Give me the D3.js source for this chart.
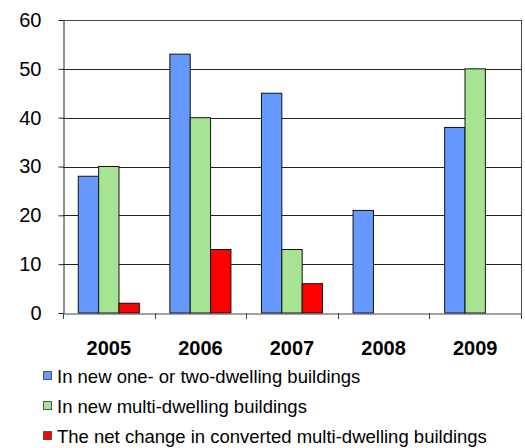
<!DOCTYPE html>
<html>
<head>
<meta charset="utf-8">
<script src="https://cdn.jsdelivr.net/npm/d3@7"></script>
<style>
  body { margin: 0; background: #fff; }
  svg { font-family: Arial, "Liberation Sans", sans-serif; }
</style>
</head>
<body>
<div id="myplot"></div>
<script>
// data
var years = ["2005", "2006", "2007", "2008", "2009"];
var oneTwo = [28, 53, 45, 21, 38];
var multi = [30, 40, 13, 0, 50];
var converted = [2, 13, 6, 0, 0];
var seriesNames = ["In new one- or two-dwelling buildings",
                   "In new multi-dwelling buildings",
                   "The net change in converted multi-dwelling buildings"];
var yTicks = [0, 10, 20, 30, 40, 50, 60];

var colors = ["#6699FF", "#A6E493", "#FF0000"];
var series = [oneTwo, multi, converted];

var svg = d3.select('div#myplot')
  .append('svg')
  .attr('width', 525)
  .attr('height', 448);

var mLeft = 63, mRight = 521, mTop = 20, mBottom = 313;

var x = d3.scaleBand().domain(years).range([mLeft, mRight]);
var y = d3.scaleLinear().domain([0, 60]).range([mBottom, mTop]);
var barW = x.bandwidth() / 4.5;
var pad = (x.bandwidth() - 3 * barW) / 2;

// gridlines
svg.append('g')
  .selectAll('line')
  .data(yTicks.filter(d => d > 0))
  .enter()
  .append('line')
  .attr('x1', mLeft).attr('x2', mRight)
  .attr('y1', d => Math.round(y(d)) + 0.5)
  .attr('y2', d => Math.round(y(d)) + 0.5)
  .attr('stroke', d => d == 60 ? '#444' : '#222')
  .attr('stroke-width', 1);

// right border
svg.append('line')
  .attr('x1', mRight + 0.5).attr('x2', mRight + 0.5)
  .attr('y1', y(60)).attr('y2', y(0))
  .attr('stroke', '#444');

// bars
series.forEach(function (s, k) {
  svg.append('g')
    .selectAll('rect')
    .data(s.map((v, i) => ({ year: years[i], v: v })).filter(d => d.v > 0))
    .enter()
    .append('rect')
    .attr('x', d => x(d.year) + pad + k * barW)
    .attr('y', d => y(d.v))
    .attr('width', barW)
    .attr('height', d => y(0) - y(d.v))
    .attr('fill', colors[k])
    .attr('stroke', '#111')
    .attr('stroke-width', 1);
});

// y axis
var yAxis = svg.append('g')
  .attr('transform', 'translate(' + (mLeft + 0.5) + ',0)')
  .call(d3.axisLeft(y).tickValues(yTicks).tickSize(5).tickPadding(17).tickSizeOuter(0));
yAxis.select('.domain').attr('stroke', '#222');
yAxis.selectAll('.tick line').attr('stroke', '#222');
yAxis.selectAll('text')
  .attr('font-size', 20)
  .attr('font-family', 'Arial, "Liberation Sans", sans-serif')
  .attr('fill', '#000');

// x axis
var xAxis = svg.append('g')
  .attr('transform', 'translate(0,' + (mBottom + 0.5) + ')')
  .call(d3.axisBottom(x).tickSize(0).tickPadding(27).tickSizeOuter(0));
xAxis.select('.domain').attr('stroke', '#444');
xAxis.selectAll('text')
  .attr('font-size', 20)
  .attr('font-weight', 'bold')
  .attr('font-family', 'Arial, "Liberation Sans", sans-serif')
  .attr('fill', '#000');

// category ticks between groups
svg.append('g')
  .selectAll('line')
  .data(years.concat(['end']))
  .enter()
  .append('line')
  .attr('x1', (d, i) => Math.round(mLeft + i * x.bandwidth()) + 0.5)
  .attr('x2', (d, i) => Math.round(mLeft + i * x.bandwidth()) + 0.5)
  .attr('y1', mBottom)
  .attr('y2', mBottom + 6)
  .attr('stroke', '#444');

// legend
var legend = svg.append('g');
seriesNames.forEach(function (name, k) {
  var ly = 377 + k * 30;
  legend.append('rect')
    .attr('x', 43.5).attr('y', ly - 5.5)
    .attr('width', 8).attr('height', 8)
    .attr('fill', colors[k])
    .attr('stroke', '#555');
  legend.append('text')
    .attr('x', 57).attr('y', ly + 6)
    .attr('font-size', 18.5)
    .attr('fill', '#000')
    .text(name);
});
</script>
</body>
</html>
